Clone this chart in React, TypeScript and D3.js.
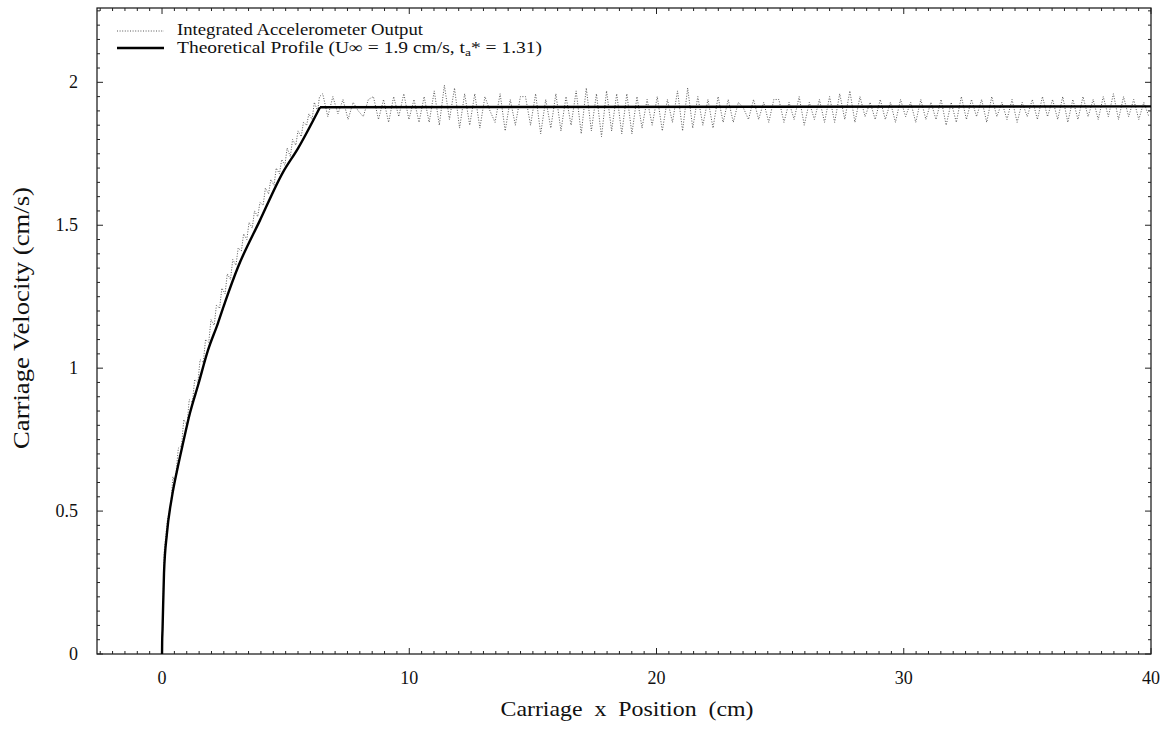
import React from "react";
import * as d3 from "d3";

// ---- Data ----
const theoryRiseX = [0, 0.005, 0.02, 0.08, 0.2, 0.4, 0.61, 0.85, 1.13, 1.46, 1.86, 2.26, 2.55, 3.07, 3.96, 4.89, 5.5, 6.39];
const theoryRiseV = [0, 0.04, 0.084, 0.283, 0.423, 0.549, 0.643, 0.738, 0.843, 0.941, 1.063, 1.157, 1.231, 1.353, 1.517, 1.685, 1.769, 1.913];
const theoryPlateauX = [6.39, 40];
const theoryPlateauV = [1.913, 1.916];

const riseX = [0, 0.09, 0.22, 0.35, 0.44, 0.53, 0.66, 0.79, 0.88, 1.01, 1.1, 1.23, 1.32, 1.45, 1.54, 1.67, 1.76, 1.89, 1.98, 2.11, 2.2, 2.33, 2.42, 2.55, 2.64, 2.77, 2.86, 2.99, 3.08, 3.21, 3.3, 3.43, 3.52, 3.65, 3.74, 3.87, 3.96, 4.09, 4.18, 4.31, 4.4, 4.53, 4.62, 4.75, 4.84, 4.97, 5.06, 5.19, 5.28, 5.41, 5.5, 5.63, 5.72, 5.85, 5.94, 6.07, 6.16, 6.29, 6.37];
const riseV = [0, 0.36, 0.47, 0.52, 0.62, 0.6, 0.72, 0.73, 0.82, 0.8, 0.89, 0.88, 0.96, 0.95, 1.03, 1.02, 1.1, 1.09, 1.17, 1.15, 1.22, 1.21, 1.28, 1.26, 1.33, 1.31, 1.38, 1.36, 1.42, 1.41, 1.47, 1.45, 1.51, 1.49, 1.55, 1.53, 1.58, 1.57, 1.63, 1.61, 1.66, 1.64, 1.7, 1.68, 1.73, 1.71, 1.77, 1.74, 1.8, 1.78, 1.83, 1.81, 1.86, 1.85, 1.89, 1.87, 1.93, 1.9, 1.95];

// accelerometer output on the plateau, sampled every 0.205 cm from 6.5 cm
const PLATEAU_X0 = 6.5;
const PLATEAU_STEP = 0.205;
const plateauV = [
  1.96, 1.88, 1.95, 1.89, 1.94, 1.87, 1.93, 1.9, 1.88, 1.94,
  1.95, 1.87, 1.94, 1.86, 1.95, 1.88, 1.96, 1.87, 1.94, 1.86,
  1.95, 1.86, 1.97, 1.85, 1.99, 1.87, 1.98, 1.84, 1.96, 1.85,
  1.96, 1.84, 1.95, 1.9, 1.86, 1.96, 1.83, 1.94, 1.85, 1.95,
  1.95, 1.85, 1.96, 1.82, 1.94, 1.84, 1.96, 1.83, 1.95, 1.85,
  1.97, 1.82, 1.98, 1.83, 1.96, 1.81, 1.97, 1.83, 1.96, 1.82,
  1.96, 1.82, 1.95, 1.84, 1.94, 1.85, 1.95, 1.83, 1.94, 1.86,
  1.97, 1.83, 1.98, 1.84, 1.95, 1.85, 1.94, 1.84, 1.95, 1.86,
  1.94, 1.86, 1.93, 1.91, 1.87, 1.94, 1.87, 1.93, 1.86, 1.94,
  1.94, 1.86, 1.93, 1.87, 1.95, 1.85, 1.93, 1.87, 1.94, 1.86,
  1.95, 1.86, 1.96, 1.87, 1.97, 1.86, 1.95, 1.88, 1.93, 1.87,
  1.94, 1.87, 1.93, 1.86, 1.94, 1.88, 1.93, 1.86, 1.94, 1.87,
  1.93, 1.87, 1.94, 1.85, 1.93, 1.86, 1.95, 1.87, 1.94, 1.88,
  1.94, 1.86, 1.95, 1.88, 1.93, 1.87, 1.94, 1.86, 1.93, 1.88,
  1.94, 1.87, 1.95, 1.88, 1.94, 1.87, 1.95, 1.86, 1.94, 1.87,
  1.95, 1.88, 1.94, 1.87, 1.95, 1.88, 1.96, 1.87, 1.95, 1.88,
  1.94, 1.87, 1.93, 1.88,
];

const xTickValues = [0, 10, 20, 30, 40];
const yTickValues = [0, 0.5, 1, 1.5, 2];
const yTickLabels = ["0", "0.5", "1", "1.5", "2"];

const legendLabels = ["Integrated Accelerometer Output", "Theoretical Profile"];

const W = 1174;
const H = 730;
const FONT = "'Liberation Serif', 'Times New Roman', serif";

export default function App() {
  const x = d3.scaleLinear().domain([-2.63, 40]).range([97, 1151]);
  const y = d3.scaleLinear().domain([0, 2.26]).range([654, 8]);
  const [x0, x1] = [x(-2.63), x(40)];
  const [y0, y1] = [y(0), y(2.26)];

  const theory = d3.zip(theoryRiseX, theoryRiseV);
  const plateauTheory = d3.zip(theoryPlateauX, theoryPlateauV);
  const measured: [number, number][] = [
    ...(d3.zip(riseX, riseV) as [number, number][]),
    ...plateauV.map((v, i) => [PLATEAU_X0 + i * PLATEAU_STEP, v] as [number, number]),
  ];

  const lineMono = d3.line<number[]>().x((d) => x(d[0])).y((d) => y(d[1])).curve(d3.curveMonotoneX);
  const lineLin = d3.line<number[]>().x((d) => x(d[0])).y((d) => y(d[1]));

  const xMinor = d3.range(-2.5, 40.01, 0.5);
  const yMinor = d3.range(0, 2.26, 0.05);

  return (
    <svg width={W} height={H} style={{ position: "absolute", left: 0, top: 0, background: "#fff" }} fontFamily={FONT}>
      <rect x={0} y={0} width={W} height={H} fill="#fff" />
      {/* frame */}
      <rect x={x0} y={y1} width={x1 - x0} height={y0 - y1} fill="none" stroke="#111" strokeWidth={1.2} />
      {/* ticks */}
      <g stroke="#222" strokeWidth={1}>
        {xMinor.map((t, i) => {
          const major = xTickValues.some((m) => Math.abs(m - t) < 1e-6);
          const len = major ? 6 : 3;
          return (
            <g key={"xt" + i}>
              <line x1={x(t)} x2={x(t)} y1={y0} y2={y0 - len} />
              <line x1={x(t)} x2={x(t)} y1={y1} y2={y1 + len} />
            </g>
          );
        })}
        {yMinor.map((t, i) => {
          const major = yTickValues.some((m) => Math.abs(m - t) < 1e-6);
          const len = major ? 6 : 3;
          return (
            <g key={"yt" + i}>
              <line x1={x0} x2={x0 + len} y1={y(t)} y2={y(t)} />
              <line x1={x1} x2={x1 - len} y1={y(t)} y2={y(t)} />
            </g>
          );
        })}
      </g>
      {/* tick labels */}
      <g fontSize={18} fill="#111">
        {xTickValues.map((t) => (
          <text key={"xl" + t} x={x(t)} y={684} textAnchor="middle">{t}</text>
        ))}
        {yTickValues.map((t, i) => (
          <text key={"yl" + t} x={78} y={y(t) + 6} textAnchor="end">{yTickLabels[i]}</text>
        ))}
      </g>
      {/* axis titles */}
      <text x={627} y={716} fontSize={22} textAnchor="middle" textLength={253} lengthAdjust="spacingAndGlyphs" fill="#111" style={{ whiteSpace: "pre" }}>
        {"Carriage  x  Position  (cm)"}
      </text>
      <text transform={`translate(29,318) rotate(-90)`} fontSize={24} textAnchor="middle" textLength={262} lengthAdjust="spacingAndGlyphs" fill="#111">
        Carriage Velocity (cm/s)
      </text>

      {/* measured (dotted) */}
      <path d={lineLin(measured) || ""} fill="none" stroke="#444" strokeWidth={0.9} strokeDasharray="1 1.6" />
      {/* theoretical */}
      <path d={lineMono(theory) || ""} fill="none" stroke="#000" strokeWidth={2.4} />
      <path d={lineLin(plateauTheory) || ""} fill="none" stroke="#000" strokeWidth={2.4} />

      {/* legend */}
      <line x1={117} x2={164} y1={31} y2={31} stroke="#444" strokeWidth={0.9} strokeDasharray="1 1.6" />
      <line x1={117} x2={164} y1={48} y2={48} stroke="#000" strokeWidth={2.4} />
      <text x={177} y={35} fontSize={16} fill="#111" textLength={246} lengthAdjust="spacingAndGlyphs">
        {legendLabels[0]}
      </text>
      <text x={177} y={53} fontSize={16} fill="#111" textLength={365} lengthAdjust="spacingAndGlyphs">
        {legendLabels[1]} (U∞ = 1.9 cm/s, t<tspan fontSize={11} dy={3}>a</tspan><tspan dy={-3}>* = 1.31)</tspan>
      </text>
    </svg>
  );
}
